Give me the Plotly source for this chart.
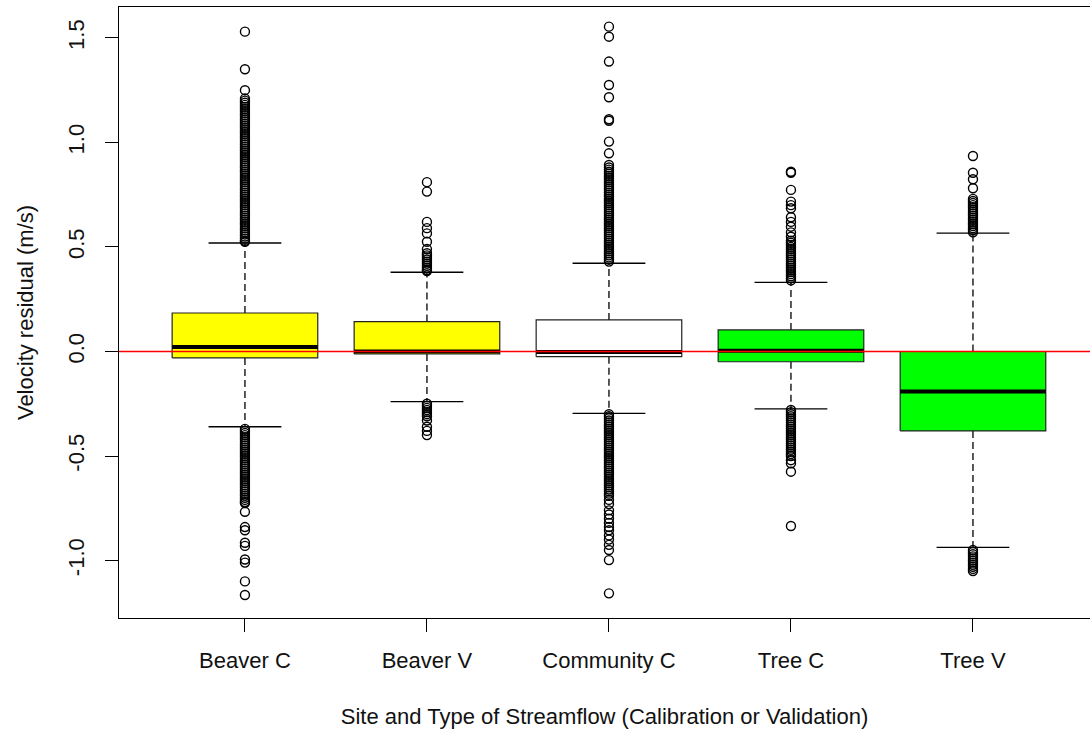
import plotly.graph_objects as go

# ---------------- data ----------------
categories = ["Beaver C", "Beaver V", "Community C", "Tree C", "Tree V"]
box_colors = ["#FFFF00", "#FFFF00", "#FFFFFF", "#00FF00", "#00FF00"]

q1 = [-0.031, -0.012, -0.025, -0.049, -0.380]
medians = [0.022, 0.000, -0.002, 0.004, -0.192]
q3 = [0.184, 0.143, 0.151, 0.103, 0.000]
lower_whisker = [-0.360, -0.240, -0.296, -0.275, -0.937]
upper_whisker = [0.519, 0.379, 0.422, 0.331, 0.566]

out_beaver_c = [
    1.53, 1.35, 1.25, 1.21, 1.20, 1.19, 1.18, 1.17, 1.16, 1.15, 1.14, 1.13, 1.12,
    1.11, 1.10, 1.09, 1.08, 1.07, 1.06, 1.05, 1.04, 1.03, 1.02, 1.01, 1.00, 0.99,
    0.98, 0.97, 0.96, 0.95, 0.94, 0.93, 0.92, 0.91, 0.90, 0.89, 0.88, 0.87, 0.86,
    0.85, 0.84, 0.83, 0.82, 0.81, 0.80, 0.79, 0.78, 0.77, 0.76, 0.75, 0.74, 0.73,
    0.72, 0.71, 0.70, 0.69, 0.68, 0.67, 0.66, 0.65, 0.64, 0.63, 0.62, 0.61, 0.60,
    0.59, 0.58, 0.57, 0.56, 0.55, 0.54, 0.53, 0.525,
    -0.37, -0.38, -0.39, -0.40, -0.41, -0.42, -0.43, -0.44, -0.45, -0.46, -0.47,
    -0.48, -0.49, -0.50, -0.51, -0.52, -0.53, -0.54, -0.55, -0.56, -0.57, -0.58,
    -0.59, -0.60, -0.61, -0.62, -0.63, -0.64, -0.65, -0.66, -0.67, -0.68, -0.69,
    -0.70, -0.71, -0.72, -0.725, -0.767, -0.84, -0.855, -0.915, -0.93, -0.995,
    -1.01, -1.10, -1.165,
]
out_beaver_v = [
    0.81, 0.765, 0.62, 0.59, 0.565, 0.525, 0.49, 0.47, 0.46, 0.45, 0.44, 0.43,
    0.42, 0.41, 0.40, 0.39, 0.385,
    -0.25, -0.26, -0.27, -0.28, -0.29, -0.30, -0.31, -0.33, -0.36, -0.38, -0.40,
]
out_community_c = [
    1.554, 1.506, 1.387, 1.275, 1.216, 1.111, 1.104, 1.004, 0.948, 0.892,
    0.88, 0.87, 0.86, 0.85, 0.84, 0.83, 0.82, 0.81, 0.80, 0.79, 0.78, 0.77, 0.76,
    0.75, 0.74, 0.73, 0.72, 0.71, 0.70, 0.69, 0.68, 0.67, 0.66, 0.65, 0.64, 0.63,
    0.62, 0.61, 0.60, 0.59, 0.58, 0.57, 0.56, 0.55, 0.54, 0.53, 0.52, 0.51, 0.50,
    0.49, 0.48, 0.47, 0.46, 0.45, 0.44, 0.43,
    -0.30, -0.31, -0.32, -0.33, -0.34, -0.35, -0.36, -0.37, -0.38, -0.39, -0.40,
    -0.41, -0.42, -0.43, -0.44, -0.45, -0.46, -0.47, -0.48, -0.49, -0.50, -0.51,
    -0.52, -0.53, -0.54, -0.55, -0.56, -0.57, -0.58, -0.59, -0.60, -0.61, -0.62,
    -0.63, -0.64, -0.65, -0.66, -0.67, -0.68, -0.69, -0.71, -0.73, -0.76, -0.78,
    -0.80, -0.82, -0.84, -0.855, -0.88, -0.90, -0.925, -0.95, -0.998, -1.157,
]
out_tree_c = [
    0.86, 0.855, 0.773, 0.717, 0.70, 0.685, 0.642, 0.62, 0.597, 0.57, 0.549,
    0.53, 0.52, 0.51, 0.50, 0.49, 0.48, 0.47, 0.46, 0.45, 0.44, 0.43, 0.42, 0.41,
    0.40, 0.39, 0.38, 0.37, 0.36, 0.35, 0.34,
    -0.28, -0.29, -0.30, -0.31, -0.32, -0.33, -0.34, -0.35, -0.36, -0.37, -0.38,
    -0.39, -0.40, -0.41, -0.42, -0.43, -0.44, -0.45, -0.46, -0.47, -0.48, -0.49,
    -0.50, -0.52, -0.535, -0.575, -0.835,
]
out_tree_v = [
    0.935, 0.855, 0.824, 0.781, 0.73, 0.72, 0.71, 0.70, 0.69, 0.68, 0.67, 0.66,
    0.65, 0.64, 0.63, 0.62, 0.61, 0.60, 0.59, 0.58, 0.57,
    -0.95, -0.96, -0.97, -0.98, -0.99, -1.00, -1.01, -1.02, -1.03, -1.04, -1.05,
]
outliers = [out_beaver_c, out_beaver_v, out_community_c, out_tree_c, out_tree_v]

y_tick_vals = [-1.0, -0.5, 0.0, 0.5, 1.0, 1.5]
y_tick_text = ["-1.0", "-0.5", "0.0", "0.5", "1.0", "1.5"]

# ---------------- figure ----------------
FONT = "Liberation Sans, Arial, sans-serif"
HALF = 0.4   # half box width (boxwex 0.8)
CAP = 0.2    # half staple width

fig = go.Figure()

# whiskers (dashed)
wx, wy = [], []
for i in range(len(categories)):
    wx += [i, i, None, i, i, None]
    wy += [q3[i], upper_whisker[i], None, q1[i], lower_whisker[i], None]
fig.add_trace(go.Scatter(x=wx, y=wy, mode="lines",
                         line=dict(color="black", width=1.3, dash="7px,4px"),
                         hoverinfo="skip", showlegend=False))

# staples
cx, cy = [], []
for i in range(len(categories)):
    cx += [i - CAP, i + CAP, None, i - CAP, i + CAP, None]
    cy += [upper_whisker[i], upper_whisker[i], None, lower_whisker[i], lower_whisker[i], None]
fig.add_trace(go.Scatter(x=cx, y=cy, mode="lines",
                         line=dict(color="black", width=1.3),
                         hoverinfo="skip", showlegend=False))

# boxes
for i, name in enumerate(categories):
    fig.add_trace(go.Scatter(
        x=[i - HALF, i + HALF, i + HALF, i - HALF, i - HALF],
        y=[q1[i], q1[i], q3[i], q3[i], q1[i]],
        mode="lines", fill="toself", fillcolor=box_colors[i],
        line=dict(color="#222222", width=1.2),
        name=name, hoverinfo="skip", showlegend=False))

# medians
mx, my = [], []
for i in range(len(categories)):
    mx += [i - HALF, i + HALF, None]
    my += [medians[i], medians[i], None]
fig.add_trace(go.Scatter(x=mx, y=my, mode="lines",
                         line=dict(color="black", width=4),
                         hoverinfo="skip", showlegend=False))

# outliers
ox, oy = [], []
for i, vals in enumerate(outliers):
    ox += [i] * len(vals)
    oy += vals
fig.add_trace(go.Scatter(x=ox, y=oy, mode="markers",
                         marker=dict(symbol="circle-open", size=9, color="black",
                                     line=dict(width=1.4, color="black")),
                         hoverinfo="skip", showlegend=False))

# red reference line at zero
fig.add_shape(type="line", xref="paper", x0=0, x1=1, yref="y", y0=0, y1=0,
              line=dict(color="#FF0000", width=1.3), layer="above")

fig.update_layout(
    width=1090, height=733,
    margin=dict(l=119, r=0, t=7, b=115),
    paper_bgcolor="white", plot_bgcolor="white",
    font=dict(family=FONT, size=22, color="black"),
    xaxis=dict(
        range=[-0.692, 4.643],
        tickmode="array", tickvals=list(range(len(categories))), ticktext=categories,
        ticks="outside", ticklen=13, tickcolor="black", tickwidth=1,
        ticklabelstandoff=10,
        showline=True, linecolor="black", linewidth=1, mirror=True,
        showgrid=False, zeroline=False,
        tickfont=dict(family=FONT, size=22, color="#111111"),
        title=dict(text="Site and Type of Streamflow (Calibration or Validation)",
                   font=dict(family=FONT, size=22, color="#111111"), standoff=36),
    ),
    yaxis=dict(
        range=[-1.275, 1.648],
        tickmode="array", tickvals=y_tick_vals, ticktext=y_tick_text,
        tickangle=-90,
        ticks="outside", ticklen=13, tickcolor="black", tickwidth=1,
        ticklabelstandoff=12,
        showline=True, linecolor="black", linewidth=1, mirror=False,
        showgrid=False, zeroline=False,
        tickfont=dict(family=FONT, size=22, color="#111111"),
        title=dict(text="Velocity residual (m/s)",
                   font=dict(family=FONT, size=22, color="#111111"), standoff=24),
    ),
)

fig.write_html("out.html")
